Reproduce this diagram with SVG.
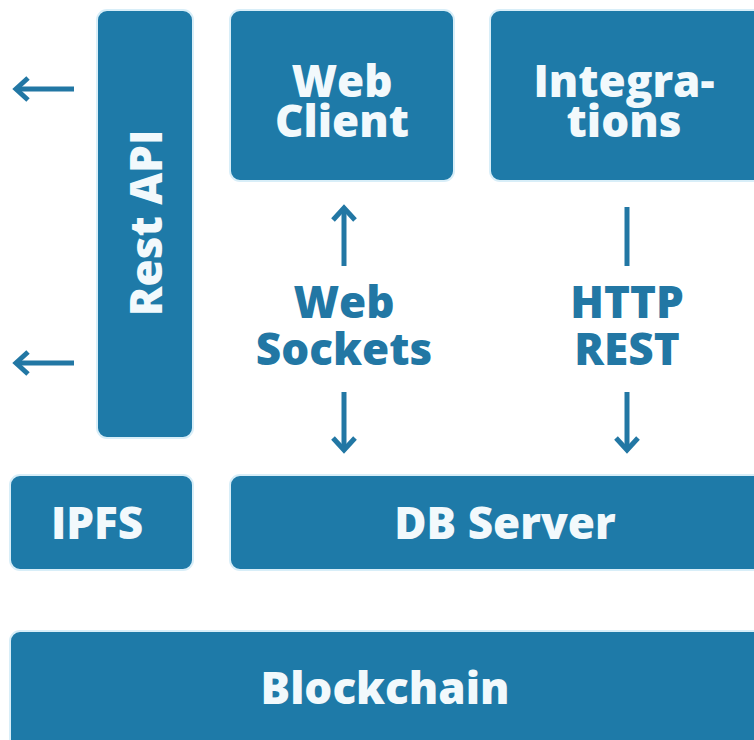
<svg xmlns="http://www.w3.org/2000/svg" width="754" height="740" viewBox="0 0 754 740">
<style>
.box{fill:#1e7aa8;stroke:#d8eef8;stroke-width:2}
.t{font-family:"Open Sans","Liberation Sans",sans-serif;font-weight:800;font-size:44px;fill:#f2f9fc;text-anchor:middle}
.l{font-family:"Open Sans","Liberation Sans",sans-serif;font-weight:800;font-size:44px;fill:#2277a4;text-anchor:middle}
.c{fill:none;stroke:#2277a4;stroke-width:5;stroke-linecap:butt;stroke-linejoin:miter}
</style>
<rect width="754" height="740" fill="#ffffff"/>
<g id="rest-api">
<rect class="box" x="97" y="10" width="96" height="428" rx="10"/>
<text class="t" transform="translate(162,223) rotate(-90)" x="0" y="0">Rest API</text>
</g>
<g id="web-client">
<rect class="box" x="230" y="10" width="224" height="171" rx="10"/>
<text class="t" x="342" y="97">Web</text>
<text class="t" x="342" y="137">Client</text>
</g>
<g id="integrations">
<rect class="box" x="490" y="10" width="274" height="171" rx="10"/>
<text class="t" x="624" y="97">Integra-</text>
<text class="t" x="624" y="137">tions</text>
</g>
<g id="ipfs">
<rect class="box" x="10" y="475" width="183" height="95" rx="10"/>
<text class="t" x="97" y="539">IPFS</text>
</g>
<g id="db-server">
<rect class="box" x="230" y="475" width="534" height="95" rx="10"/>
<text class="t" x="505" y="539">DB Server</text>
</g>
<g id="blockchain">
<rect class="box" x="10" y="631" width="754" height="120" rx="10"/>
<text class="t" x="385" y="704">Blockchain</text>
</g>
<g id="connectors">
<line class="c" x1="74" y1="89" x2="16" y2="89"/>
<polyline class="c" points="28,78 16,89 28,100"/>
<line class="c" x1="74" y1="363" x2="16" y2="363"/>
<polyline class="c" points="28,352 16,363 28,374"/>
<line class="c" x1="344" y1="266" x2="344" y2="208"/>
<polyline class="c" points="333,220 344,208 355,220"/>
<line class="c" x1="344" y1="392" x2="344" y2="450"/>
<polyline class="c" points="333,438 344,450 355,438"/>
<line class="c" x1="627" y1="207" x2="627" y2="266"/>
<line class="c" x1="627" y1="392" x2="627" y2="450"/>
<polyline class="c" points="616,438 627,450 638,438"/>
<text class="l" x="344" y="318">Web</text>
<text class="l" x="344" y="365">Sockets</text>
<text class="l" x="627" y="318">HTTP</text>
<text class="l" x="627" y="365">REST</text>
</g>
</svg>
